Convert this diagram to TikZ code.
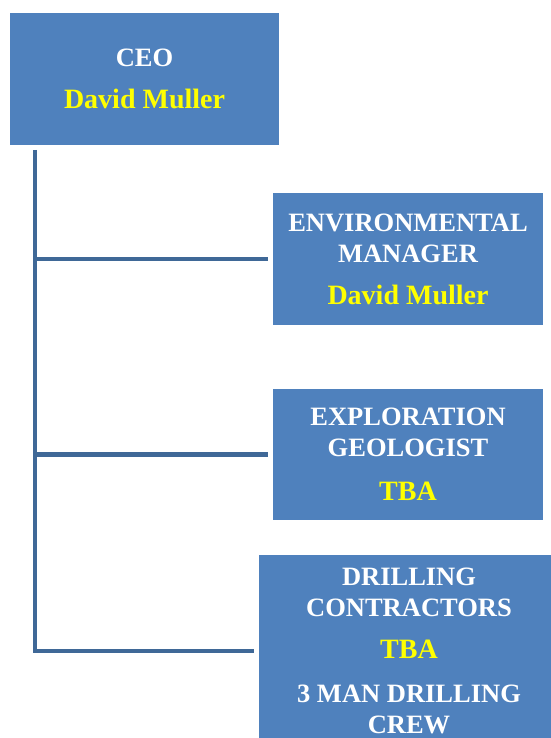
\documentclass[tikz,border=0pt]{standalone}
\usepackage{fontspec}
\setmainfont{Liberation Serif}
\definecolor{boxblue}{HTML}{4F81BD}
\definecolor{lineblue}{HTML}{3F6897}
\definecolor{nameyellow}{HTML}{FFFF00}
\newcommand{\person}[1]{\textcolor{nameyellow}{\fontsize{28}{31}\selectfont #1}}
\tikzset{
  orgbox/.style={fill=boxblue, inner sep=0pt, outer sep=5pt, text=white, align=center,
    font=\bfseries\fontsize{26.5}{31}\selectfont},
  orgline/.style={draw=lineblue, line width=4.5pt}
}
\begin{document}
\begin{tikzpicture}[x=1pt,y=-1pt]
    \useasboundingbox (0,0) rectangle (550,738);
    \node [orgbox, minimum width=269pt, minimum height=132pt] (ceo) at (144.5,79) {CEO\\[11pt]\person{David Muller}};
    \node [orgbox, minimum width=270pt, minimum height=132pt] (env) at (408,259) {ENVIRONMENTAL\\MANAGER\\[11pt]\person{David Muller}};
    \node [orgbox, minimum width=270pt, minimum height=131pt] (geo) at (408,454.5) {EXPLORATION\\GEOLOGIST\\[13pt]\person{TBA}};
    \node [orgbox, minimum width=300pt, minimum height=192pt] (drill) at (409,651) {DRILLING\\CONTRACTORS\\[11pt]\person{TBA}\\[13pt]3 MAN DRILLING\\CREW};
    \coordinate (trunk) at ([xshift=30pt]ceo.south west);
    \draw [orgline] (trunk) |- (drill.west);
    \draw [orgline] (trunk |- env.west) -- (env.west);
    \draw [orgline] (trunk |- geo.west) -- (geo.west);
\end{tikzpicture}
\end{document}
